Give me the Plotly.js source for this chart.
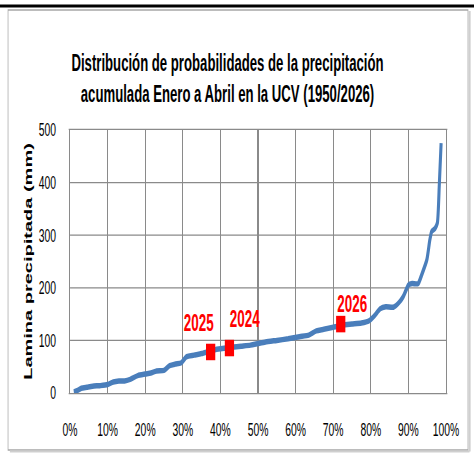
<!DOCTYPE html>
<html>
<head>
<meta charset="utf-8">
<script src="https://cdn.plot.ly/plotly-3.0.1.min.js"></script>
<style>
html,body{margin:0;padding:0;background:#fff;overflow:hidden;width:474px;height:457px;}
#wrap{width:474px;height:457px;overflow:hidden;position:relative;}
#chart{width:846px;height:457px;transform:scaleX(0.5603);transform-origin:0 0;position:absolute;left:0;top:0;}
</style>
</head>
<body>
<div id="wrap"><div id="chart"></div></div>
<script>
// Probability of non-exceedance (fraction) and accumulated rainfall (mm)
const probability = [0.010,0.020,0.030,0.045,0.060,0.080,0.100,0.115,0.130,0.145,0.160,0.180,0.200,0.215,0.230,0.250,0.265,0.280,0.295,0.310,0.330,0.350,0.370,0.390,0.410,0.430,0.455,0.480,0.500,0.520,0.550,0.580,0.610,0.635,0.655,0.675,0.700,0.725,0.750,0.775,0.795,0.810,0.825,0.840,0.860,0.875,0.886,0.900,0.910,0.926,0.935,0.949,0.957,0.962,0.971,0.977,0.982,0.987];
const rainfall    = [2,5,9,11,13,14,16,21,23,23,26,33,36,38,42,43,52,55,57,69,72,75,79,83,85,87,89,91,94,97,100,103,107,110,118,121,125,129,131,133,137,147,160,164,163,172,183,205,208,208,224,253,291,307,313,323,392,475];

// Highlighted years
const years       = ['2025','2024','2026'];
const yearProb    = [0.374,0.424,0.720];
const yearRain    = [78,85.5,131];

const FONT = '"Liberation Sans", Arial, sans-serif';
const GRID = '#8a8a8a';

const curve = {
  x: probability, y: rainfall, type: 'scatter', mode: 'lines',
  line: {color: '#4a7ebb', width: 5.5, shape: 'spline', smoothing: 0.6},
  hoverinfo: 'skip', showlegend: false
};
const marks = {
  x: yearProb, y: yearRain, type: 'scatter', mode: 'markers',
  marker: {symbol: 'square', size: 16.5, color: '#ff0000', line: {width: 0}},
  showlegend: false, hoverinfo: 'skip'
};

const labelShift = [[-21,29],[27,30],[20,21]];
const annotations = years.map((t,i) => ({
  x: yearProb[i], y: yearRain[i], xref: 'x', yref: 'y', text: '<b>'+t+'</b>',
  showarrow: false, xshift: labelShift[i][0], yshift: labelShift[i][1],
  font: {family: FONT, size: 24, color: '#ff0000'}
}));

const shapes = [
  {type:'line', xref:'paper', yref:'paper', x0:-0.19, x1:1.08, y0:1.4715, y1:1.4715, line:{color:'#000', width:3}},
  {type:'rect', xref:'paper', yref:'paper', x0:-0.1649, x1:1.0585, y0:-0.2167, y1:1.4563, line:{color:'#a6a6a6', width:1.3}},
  {type:'line', xref:'paper', yref:'paper', x0:1.0625, x1:1.0625, y0:-0.222, y1:1.452, line:{color:'#cfcfcf', width:4}},
  {type:'line', xref:'paper', yref:'paper', x0:-0.16, x1:1.0625, y0:-0.222, y1:-0.222, line:{color:'#cfcfcf', width:2}}
];

const layout = {
  width: 846, height: 457,
  margin: {l: 125, r: 50, t: 130, b: 64},
  paper_bgcolor: '#fff', plot_bgcolor: '#fff',
  title: {
    text: '<b>Distribución de probabilidades de la precipitación<br>acumulada Enero a Abril en la UCV (1950/2026)</b>',
    xref: 'container', yref: 'container', x: 227.5/474, y: 1-71.5/457,
    xanchor: 'center', yanchor: 'middle',
    font: {family: FONT, size: 23.5, color: '#000'}
  },
  xaxis: {
    range: [0, 1], dtick: 0.1, tickformat: '.0%', showgrid: true, gridcolor: GRID, gridwidth: 2.4,
    showline: true, mirror: true, linecolor: GRID, linewidth: 1.2, zeroline: false,
    ticks: 'outside', ticklen: 20, tickcolor: 'rgba(0,0,0,0)',
    tickfont: {family: FONT, size: 18.5, color: '#000'}, fixedrange: true
  },
  yaxis: {
    range: [0, 500], dtick: 100, showgrid: true, gridcolor: GRID, gridwidth: 1.3,
    showline: true, mirror: true, linecolor: GRID, linewidth: 2.4, zeroline: false,
    ticks: 'outside', ticklen: 19, tickcolor: 'rgba(0,0,0,0)',
    tickfont: {family: FONT, size: 18.5, color: '#000'}, fixedrange: true,
    title: {text: '<b>Lamina precipitada (mm)</b>', standoff: 6,
            font: {family: FONT, size: 20, color: '#000'}}
  },
  annotations: annotations,
  shapes: shapes
};

Plotly.newPlot('chart', [curve, marks], layout, {displayModeBar: false, staticPlot: true});
</script>
</body>
</html>
